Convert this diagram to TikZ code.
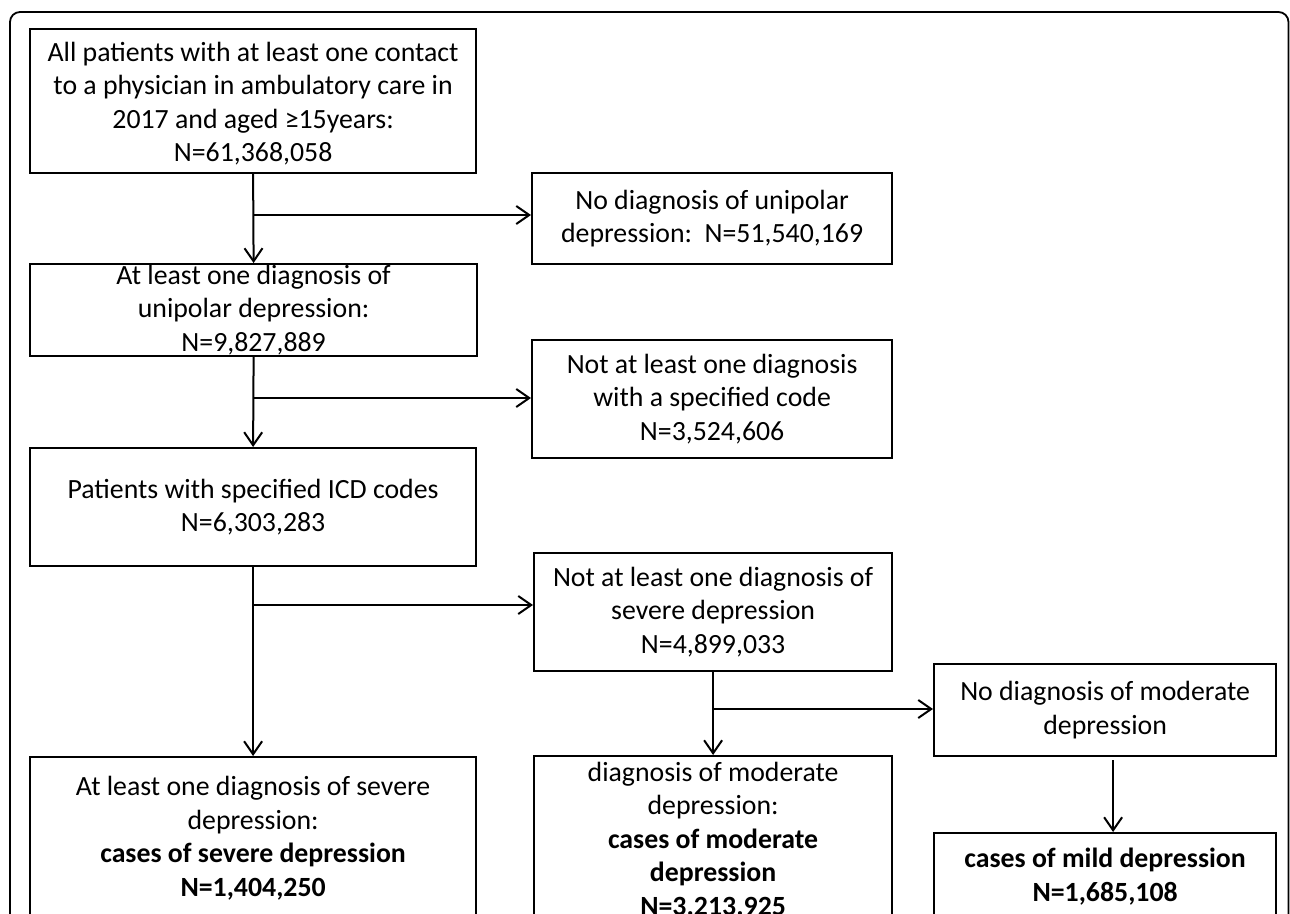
\documentclass[tikz,border=0pt]{standalone}
\usepackage{fontspec}
\setmainfont{Carlito}
\usetikzlibrary{arrows.meta}
\begin{document}
\begin{tikzpicture}[x=1pt,y=-1pt,
  box/.style={draw, line width=2.2pt, align=center, inner sep=0pt, anchor=north west,
    font=\fontsize{27.8}{33.5}\selectfont},
  conn/.style={line width=2pt, -{Straight Barb[length=13pt,width=18pt,line width=2pt]}},
  ln/.style={line width=2pt}]
\useasboundingbox (0,0) rectangle (1290,913);
\clip (0,0) rectangle (1290,913);
\draw[line width=1.8pt, rounded corners=10pt] (10,980) -- (10,12) -- (1288.5,12) -- (1288.5,980);

\node[box, minimum width=446pt, minimum height=144pt] (B1) at (29,28)
  {\rule{0pt}{24pt}All patients with at least one contact\\to a physician in ambulatory care in\\2017 and aged ≥15years:\\N=61,368,058};
\node[box, minimum width=360pt, minimum height=91pt] (N1) at (531,172)
  {No diagnosis of unipolar\\depression:\ \ N=51,540,169};
\node[box, minimum width=447pt, minimum height=92pt] (B2) at (29,263)
  {At least one diagnosis of\\unipolar depression:\\N=9,827,889};
\node[box, minimum width=360pt, minimum height=118pt] (N2) at (531,339)
  {Not at least one diagnosis\\with a specified code\\N=3,524,606};
\node[box, minimum width=446pt, minimum height=118pt] (B3) at (29,447)
  {Patients with specified ICD codes\\N=6,303,283};
\node[box, minimum width=358pt, minimum height=118pt] (N3) at (533,552)
  {Not at least one diagnosis of\\severe depression\\N=4,899,033};
\node[box, minimum width=446pt, minimum height=162pt] (B4) at (29,756)
  {At least one diagnosis of severe\\depression:\\\textbf{cases of severe depression}\\\textbf{N=1,404,250}};
\node[box, minimum width=342pt, minimum height=92pt] (N4) at (933,663)
  {No diagnosis of moderate\\depression};
\node[box, minimum width=358pt, minimum height=165pt] (B5) at (533,755)
  {diagnosis of moderate\\depression:\\\textbf{cases of moderate}\\\textbf{depression}\\\textbf{N=3.213.925}};
\node[box, minimum width=342pt, minimum height=87pt] (B6) at (933,832)
  {\textbf{cases of mild depression}\\\textbf{N=1,685,108}};

% connectors
\coordinate (j1) at (B1.south |- 0,215);
\draw[conn] (B1.south) -- (B2.north);
\draw[conn] (j1) -- (j1 -| N1.west);
\coordinate (j2) at (B2.south |- 0,398);
\draw[conn] (B2.south) -- (B3.north);
\draw[conn] (j2) -- (j2 -| N2.west);
\coordinate (j3) at (B3.south |- 0,605);
\draw[conn] (B3.south) -- (B4.north);
\draw[conn] (j3) -- (j3 -| N3.west);
\coordinate (j4) at (N3.south |- 0,709);
\draw[conn] (N3.south) -- (B5.north);
\draw[conn] (j4) -- (j4 -| N4.west);
\draw[conn] ([xshift=8pt,yshift=-3pt]N4.south) -- ([xshift=8pt]B6.north);
\end{tikzpicture}
\end{document}
